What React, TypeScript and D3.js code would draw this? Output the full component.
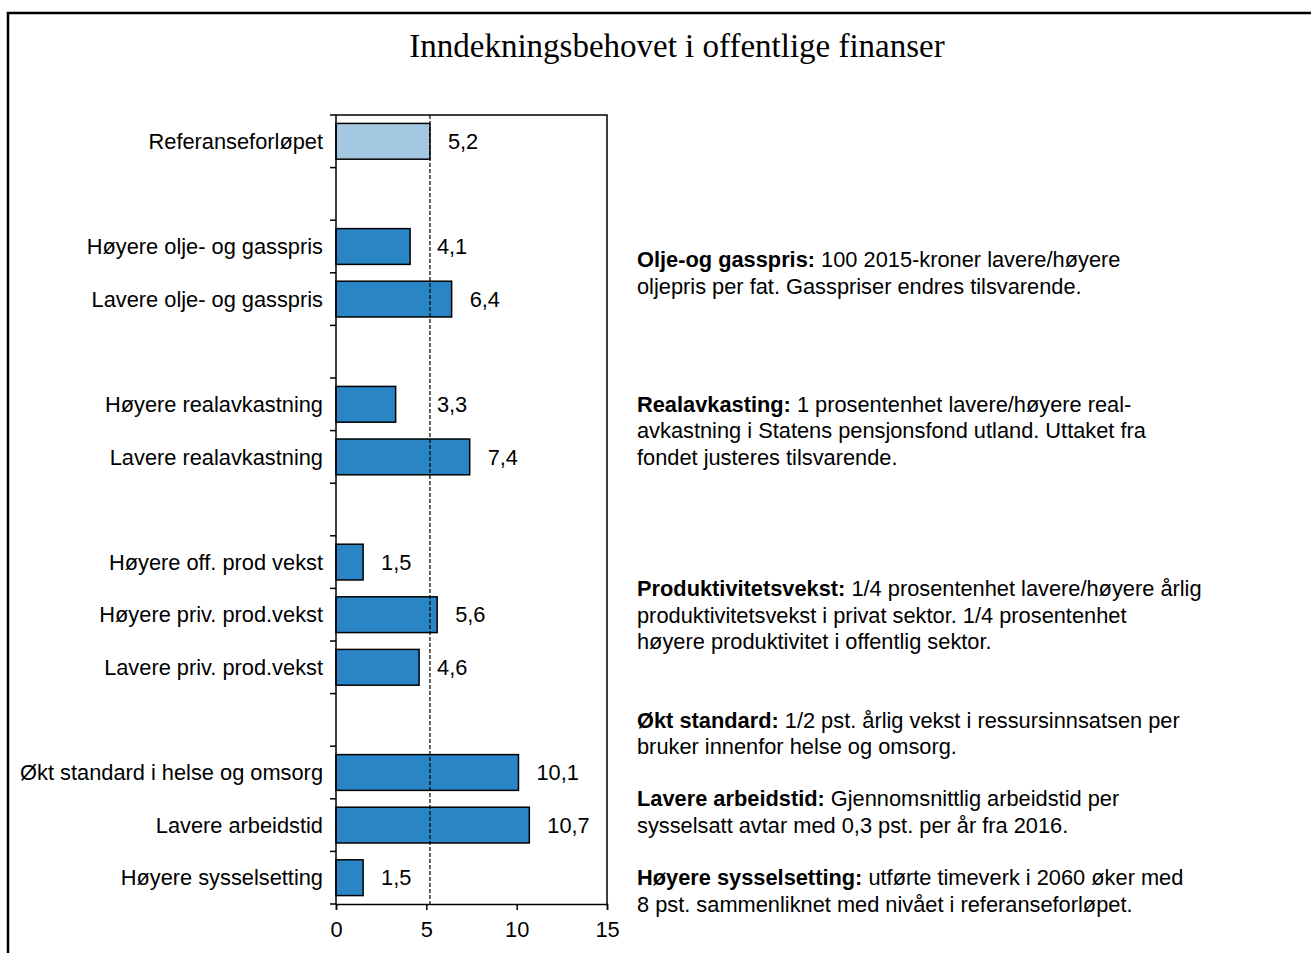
import { useEffect, useRef } from 'react';
import * as d3 from 'd3';

// slots in the chart, top to bottom; null = empty gap slot
const categories: (string | null)[] = [
  'Referanseforløpet',
  null,
  'Høyere olje- og gasspris',
  'Lavere olje- og gasspris',
  null,
  'Høyere realavkastning',
  'Lavere realavkastning',
  null,
  'Høyere off. prod vekst',
  'Høyere priv. prod.vekst',
  'Lavere priv. prod.vekst',
  null,
  'Økt standard i helse og omsorg',
  'Lavere arbeidstid',
  'Høyere sysselsetting',
];
const values: (number | null)[] = [5.2, null, 4.1, 6.4, null, 3.3, 7.4, null, 1.5, 5.6, 4.6, null, 10.1, 10.7, 1.5];
const referenceValue = 5.2;
const xTicks = [0, 5, 10, 15];

// notes at right: bold head, rest of first line, further lines; slot = where first line sits
const notes = [
  { slot: 2.75, head: 'Olje-og gasspris:', lines: [' 100 2015-kroner lavere/høyere', 'oljepris per fat. Gasspriser endres tilsvarende.'] },
  { slot: 5.5, head: 'Realavkasting:', lines: [' 1 prosentenhet lavere/høyere real-', 'avkastning i Statens pensjonsfond utland.  Uttaket fra', 'fondet justeres tilsvarende.'] },
  { slot: 9, head: 'Produktivitetsvekst:', lines: [' 1/4 prosentenhet lavere/høyere årlig', 'produktivitetsvekst i privat sektor. 1/4 prosentenhet', 'høyere produktivitet i offentlig sektor.'] },
  { slot: 11.5, head: 'Økt standard:', lines: [' 1/2 pst. årlig vekst i ressursinnsatsen per', 'bruker innenfor helse og omsorg.'] },
  { slot: 13, head: 'Lavere arbeidstid:', lines: [' Gjennomsnittlig arbeidstid per', 'sysselsatt avtar med 0,3 pst. per år fra 2016.'] },
  { slot: 14.5, head: 'Høyere sysselsetting:', lines: [' utførte timeverk i 2060 øker med', '8 pst. sammenliknet med nivået i referanseforløpet.'] },
];

const WIDTH = 1311;
const HEIGHT = 953;
const PLOT = { left: 336, top: 115, right: 607, bottom: 904 };
const FONT = '"Liberation Sans", Arial, sans-serif';
const FS = 21.8;
const BAR = '#2a85c6';
const BAR_REF = '#a5c8e2';

const App = () => {
  const xAxisRef = useRef<SVGGElement>(null);

  const xScale = d3.scaleLinear().domain([0, 15]).range([PLOT.left, PLOT.right]);
  const yScale = d3
    .scaleBand<number>()
    .domain(d3.range(categories.length))
    .range([PLOT.top, PLOT.bottom])
    .paddingInner(0.32)
    .paddingOuter(0.16);
  const step = yScale.step();
  const slotTop = (i: number) => PLOT.top + i * step;

  useEffect(() => {
    const g = d3.select(xAxisRef.current);
    g.selectAll('*').remove();
    g.call(d3.axisBottom(xScale).tickValues(xTicks).tickSize(6).tickPadding(12).tickFormat(d3.format('d')) as any);
    g.select('.domain').attr('stroke', '#000').attr('stroke-width', 1.5);
    g.selectAll('.tick line').attr('stroke', '#000').attr('stroke-width', 1.5);
    g.selectAll('.tick text')
      .attr('font-family', FONT)
      .attr('font-size', FS)
      .attr('fill', '#000');
  }, []);

  // labels that would sit on the dashed line are pushed right of it
  const labelX = (v: number) => {
    const x = xScale(v) + 18;
    const refX = xScale(referenceValue);
    return x < refX + 6 && x + 32 > refX - 4 ? refX + 7 : x;
  };

  return (
    <svg
      width={WIDTH}
      height={HEIGHT}
      style={{ position: 'absolute', left: 0, top: 0, background: '#fff' }}
    >
      <rect x={0} y={0} width={WIDTH} height={HEIGHT} fill="#fff" />
      {/* outer frame, runs off the right and bottom */}
      <rect x={8} y={13} width={WIDTH + 20} height={HEIGHT + 20} fill="none" stroke="#000" strokeWidth={2.5} />

      <text
        x={677}
        y={57}
        textAnchor="middle"
        fontFamily='"Liberation Serif", "Times New Roman", serif'
        fontSize={33}
        fill="#000"
      >
        Inndekningsbehovet i offentlige finanser
      </text>

      {/* plot box top and right */}
      <path
        d={`M${PLOT.left},${PLOT.top}H${PLOT.right}V${PLOT.bottom}`}
        fill="none"
        stroke="#000"
        strokeWidth={1.5}
      />

      {values.map((v, i) =>
        v === null ? null : (
          <rect
            key={i}
            x={xScale(0)}
            y={yScale(i)}
            width={xScale(v) - xScale(0)}
            height={yScale.bandwidth()}
            fill={i === 0 ? BAR_REF : BAR}
            stroke="#000"
            strokeWidth={1.5}
          />
        )
      )}

      <line
        x1={xScale(referenceValue)}
        x2={xScale(referenceValue)}
        y1={PLOT.top}
        y2={PLOT.bottom}
        stroke="#000"
        strokeWidth={1.2}
        strokeDasharray="4,2"
      />

      {values.map((v, i) =>
        v === null ? null : (
          <text
            key={i}
            x={labelX(v)}
            y={(yScale(i) ?? 0) + yScale.bandwidth() / 2}
            dy="0.35em"
            fontFamily={FONT}
            fontSize={FS}
            fill="#000"
          >
            {d3.format('.1f')(v).replace('.', ',')}
          </text>
        )
      )}

      {/* y axis and ticks between slots */}
      <line x1={PLOT.left} x2={PLOT.left} y1={PLOT.top} y2={PLOT.bottom} stroke="#000" strokeWidth={1.5} />
      {d3.range(categories.length + 1).map((i) => (
        <line
          key={i}
          x1={PLOT.left - 6}
          x2={PLOT.left}
          y1={slotTop(i)}
          y2={slotTop(i)}
          stroke="#000"
          strokeWidth={1.5}
        />
      ))}

      {categories.map((c, i) =>
        c === null ? null : (
          <text
            key={i}
            x={PLOT.left - 13}
            y={(yScale(i) ?? 0) + yScale.bandwidth() / 2}
            dy="0.35em"
            textAnchor="end"
            fontFamily={FONT}
            fontSize={FS}
            fill="#000"
          >
            {c}
          </text>
        )
      )}

      <g ref={xAxisRef} transform={`translate(0,${PLOT.bottom})`} />

      {notes.map((n, k) => {
        const y0 = slotTop(n.slot);
        const lh = 26.5;
        return (
          <text key={k} fontFamily={FONT} fontSize={FS} fill="#000">
            <tspan x={637} y={y0} dy="0.35em">
              <tspan fontWeight="bold">{n.head}</tspan>
              {n.lines[0]}
            </tspan>
            {n.lines.slice(1).map((l, j) => (
              <tspan key={j} x={637} y={y0 + (j + 1) * lh} dy="0.35em">
                {l}
              </tspan>
            ))}
          </text>
        );
      })}
    </svg>
  );
};

export default App;
